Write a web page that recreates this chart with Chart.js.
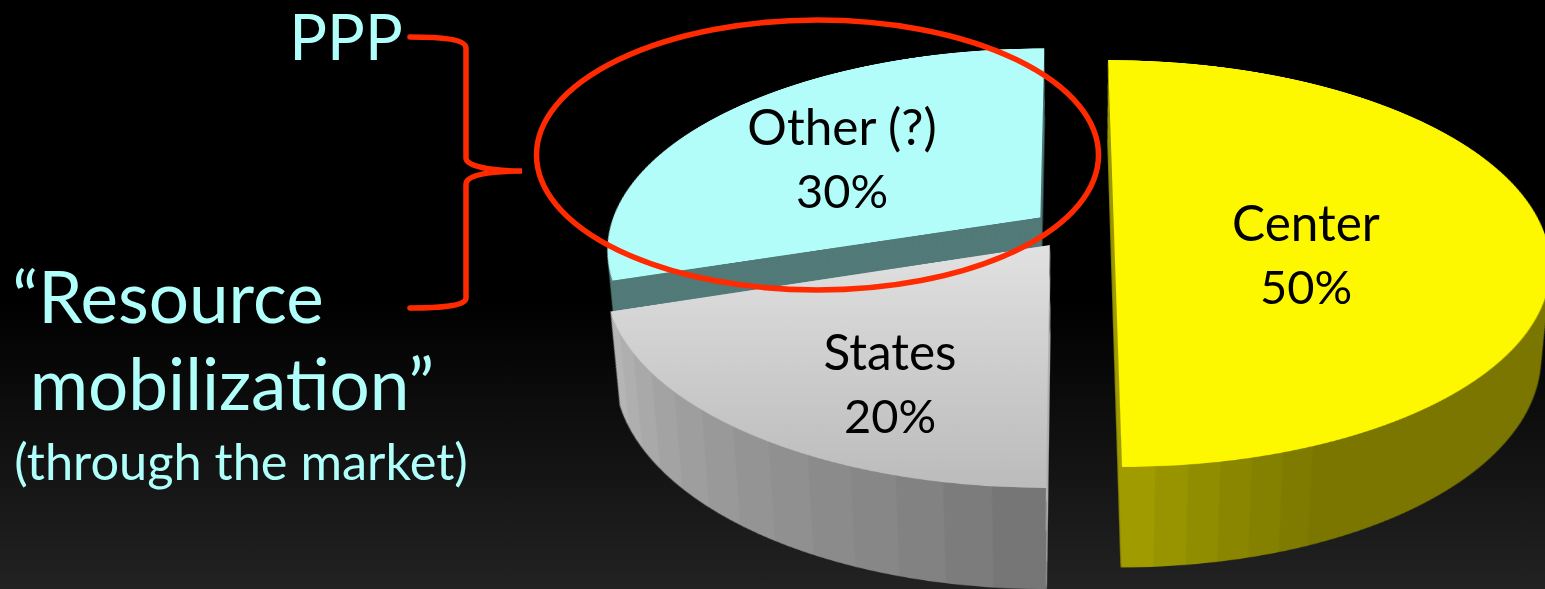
<!DOCTYPE html>
<html>
<head>
<meta charset="utf-8">
<title>Funding shares</title>
<script src="https://cdn.jsdelivr.net/npm/chart.js@4"></script>
<style>
 html, body { margin: 0; padding: 0; }
 body {
  position: relative; width: 1545px; height: 589px; overflow: hidden;
  background: linear-gradient(to bottom, #000 0, #000 300px, #222 589px);
  font-family: Lato, "Open Sans", sans-serif;
 }
 #pieWrap { position: absolute; width: 1400px; height: 1400px; left: 370px; top: -468px;
  transform: perspective(2464px) rotateX(62.5deg); transform-origin: 50% 50%; }
 #pieChart { display: block; }
 svg { position: absolute; left: 0; top: 0; }
 .note { position: absolute; color: #b0fffb; white-space: nowrap; transform: translate(-50%, -50%); }
 .slice { position: absolute; color: #000; font-size: 47px; line-height: 63px; text-align: center; white-space: nowrap; transform: translate(-50%, -50%); }
</style>
</head>
<body>
<div id="pieWrap"><canvas id="pieChart" width="1400" height="1400"></canvas></div>
<svg width="1545" height="589" fill="none" stroke="#ff2a00">
 <ellipse cx="817.5" cy="155" rx="281" ry="135" stroke-width="5.5"></ellipse>
 <path stroke-width="5.5" stroke-linecap="round" d="M410 37 C440 37 466 39 466 48 L466 158 C466 166 490 171 522 171 C490 171 466 175 466 184 L466 298 C466 306 440 308 410 308"></path>
</svg>
<div class="note" style="left:346px;top:35px;font-size:63px">PPP</div>
<div class="note" style="left:168px;top:295px;font-size:71px">“Resource</div>
<div class="note" style="left:232px;top:382px;font-size:71px">mobilization”</div>
<div class="note" style="left:241px;top:460px;font-size:50.5px">(through the market)</div>
<div class="slice" style="left:1306px;top:254px" id="label0"></div>
<div class="slice" style="left:890px;top:383px" id="label1"></div>
<div class="slice" style="left:842px;top:158px" id="label2"></div>

<script>
 var categories = ["Center", "States", "Other (?)"];
 var shares = [50, 20, 30];

 var topColors = ["#fdf700", "#d0d0d0", "#b2fdf9"];
 var statesTopFade = ["#e2e2e2", "#bcbcbc"];
 // wall facets run clockwise and end at the end of the slice
 var centerWallFacets = ["#7a7600", "#7f7b00", "#858100", "#8a8600", "#918d00", "#989400", "#a09c00"];
 var statesWallFacets = ["#767676", "#7c7c7c", "#828282", "#878787", "#8b8b8b", "#909090", "#949494", "#999999", "#9e9e9e", "#a3a3a3", "#a9a9a9", "#afafaf", "#b5b5b5"];
 var facetDegrees = [3.75, 5.5];
 var otherWall = "#527a78";

 // how far each slice sits from the middle of the pie, on the tilted plane
 var shiftX = [44, -20, -30];
 var shiftY = [0, 28, -32];
 var sliceRadius = [430, 434, 432];
 var wallDepth = 103;

 var perspective = 2464;
 var tilt = 62.5 * Math.PI / 180;

 function facetGradient(ctx, arc, x, y, facets, degrees) {
  var grad = ctx.createConicGradient(arc.startAngle, x, y);
  var end = (arc.endAngle - arc.startAngle) / (2 * Math.PI);
  var step = degrees / 360;
  facets.forEach(function (color, i) {
   var back = facets.length - i;
   grad.addColorStop(end - back * step, color);
   grad.addColorStop(end - (back - 1) * step, color);
  });
  return grad;
 }

 function sliceFill(ctx, arc, index, x, y, isTop) {
  if (isTop) {
   if (index === 1) {
    var fade = ctx.createLinearGradient(0, y, 0, y + sliceRadius[1]);
    fade.addColorStop(0, statesTopFade[0]);
    fade.addColorStop(1, statesTopFade[1]);
    return fade;
   }
   return topColors[index];
  }
  if (index === 0) return facetGradient(ctx, arc, x, y, centerWallFacets, facetDegrees[0]);
  if (index === 1) return facetGradient(ctx, arc, x, y, statesWallFacets, facetDegrees[1]);
  return otherWall;
 }

 // draws the slices as a stack of layers, lowest first, so they get a side wall
 var extrudePlugin = {
  id: "extrude",
  beforeDatasetsDraw: function (chart) {
   var ctx = chart.ctx;
   var arcs = chart.getDatasetMeta(0).data;
   var height = perspective * Math.cos(tilt);
   var footX = chart.width / 2;
   var footY = chart.height / 2 + perspective * Math.sin(tilt);

   for (var h = wallDepth; h >= 0; h--) {
    var scale = height / (height + h);
    ctx.save();
    ctx.translate(footX, footY);
    ctx.scale(scale, scale);
    ctx.translate(-footX, -footY);
    arcs.forEach(function (arc, i) {
     var x = arc.x + shiftX[i];
     var y = arc.y + shiftY[i];
     var layer = new Chart.ArcElement({
      x: x, y: y,
      startAngle: arc.startAngle, endAngle: arc.endAngle,
      circumference: arc.circumference,
      innerRadius: 0, outerRadius: sliceRadius[i],
      options: Object.assign({}, arc.options, {
       backgroundColor: sliceFill(ctx, arc, i, x, y, h === 0),
       borderWidth: 0, offset: 0, spacing: 0
      })
     });
     layer.draw(ctx);
    });
    ctx.restore();
   }
   return false;
  }
 };

 new Chart(document.getElementById("pieChart"), {
  type: "pie",
  data: {
   labels: categories,
   datasets: [{ data: shares, backgroundColor: topColors, borderWidth: 0 }]
  },
  options: {
   responsive: false,
   animation: false,
   devicePixelRatio: 2,
   radius: 430,
   plugins: { legend: { display: false }, tooltip: { enabled: false } }
  },
  plugins: [extrudePlugin]
 });

 categories.forEach(function (name, i) {
  document.getElementById("label" + i).innerHTML = '<span style="font-size:49.5px">' + name + "</span><br>" + shares[i] + "%";
 });
</script>
</body>
</html>
